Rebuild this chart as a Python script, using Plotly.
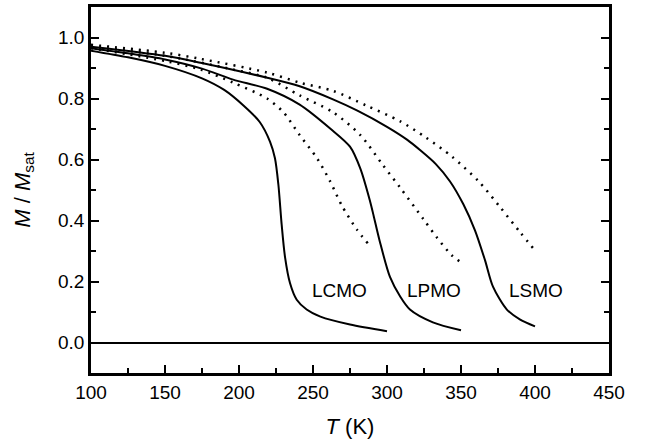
import plotly.graph_objects as go

# Solid curves (measured)
T_lcmo = [100, 125, 150, 175, 190, 203, 214, 221, 224.3, 226.6, 228.8, 231.1, 234.5, 239, 245.7, 255, 275, 300]
M_lcmo = [0.957, 0.935, 0.907, 0.866, 0.828, 0.777, 0.723, 0.658, 0.604, 0.518, 0.388, 0.28, 0.194, 0.14, 0.108, 0.085, 0.059, 0.037]

T_lpmo = [100, 125, 150, 175, 196, 219, 241, 262, 275, 282, 288.5, 291, 295, 302, 309, 315.5, 331, 350]
M_lpmo = [0.965, 0.948, 0.928, 0.898, 0.862, 0.832, 0.78, 0.70, 0.642, 0.57, 0.464, 0.415, 0.334, 0.215, 0.15, 0.108, 0.066, 0.04]

T_lsmo = [100, 150, 174, 219, 241, 263.5, 280, 300, 313.5, 322.3, 333, 342.6, 351.6, 359.5, 366.2, 371.6, 381, 390, 400]
M_lsmo = [0.97, 0.94, 0.917, 0.868, 0.84, 0.797, 0.76, 0.707, 0.665, 0.631, 0.585, 0.528, 0.453, 0.367, 0.27, 0.183, 0.108, 0.075, 0.053]

# Dotted curves (model)
T_lcmo_d = [100, 151, 174, 196, 219, 230, 241, 252.7, 261.5, 269.6, 279.7, 287]
M_lcmo_d = [0.965, 0.922, 0.895, 0.852, 0.80, 0.755, 0.68, 0.604, 0.529, 0.448, 0.37, 0.325]

T_lpmo_d = [100, 150, 196, 219, 241, 263.5, 282, 297, 309, 324.5, 333.6, 343.7, 350]
M_lpmo_d = [0.97, 0.94, 0.895, 0.868, 0.81, 0.755, 0.68, 0.583, 0.507, 0.405, 0.345, 0.286, 0.263]

T_lsmo_d = [100, 150, 174, 219, 241, 263.5, 286, 309, 326, 344, 362, 376.4, 390, 400]
M_lsmo_d = [0.976, 0.95, 0.93, 0.885, 0.852, 0.825, 0.777, 0.725, 0.673, 0.609, 0.528, 0.444, 0.361, 0.302]

labels = ["LCMO", "LPMO", "LSMO"]
label_T = [268, 332, 401]
label_M = [0.172, 0.172, 0.172]

FONT = "Liberation Sans, Arial, sans-serif"

fig = go.Figure()
for T, M in [(T_lcmo_d, M_lcmo_d), (T_lpmo_d, M_lpmo_d), (T_lsmo_d, M_lsmo_d)]:
    fig.add_trace(go.Scatter(x=T, y=M, mode="lines",
                             line=dict(color="black", width=2.5, dash="2px,6px", shape="spline", smoothing=0.8),
                             showlegend=False))
for T, M in [(T_lcmo, M_lcmo), (T_lpmo, M_lpmo), (T_lsmo, M_lsmo)]:
    fig.add_trace(go.Scatter(x=T, y=M, mode="lines",
                             line=dict(color="black", width=2, shape="spline", smoothing=0.8),
                             showlegend=False))

for lab, tx, my in zip(labels, label_T, label_M):
    fig.add_annotation(x=tx, y=my, text=lab, showarrow=False,
                       font=dict(family=FONT, size=19, color="black"))

fig.update_layout(
    width=645, height=443,
    margin=dict(l=91, r=36, t=4, b=70),
    paper_bgcolor="white", plot_bgcolor="white",
    font=dict(family=FONT, size=19, color="black"),
    showlegend=False,
)
fig.update_xaxes(
    range=[100, 450], tick0=100, dtick=50,
    ticks="inside", ticklen=8, tickwidth=2, tickcolor="black",
    minor=dict(ticks="inside", dtick=25, ticklen=5, tickwidth=2, tickcolor="black"),
    showline=True, linewidth=2.5, linecolor="black", mirror=True,
    showgrid=False, zeroline=False,
    title=dict(text="<i>T</i> (K)", font=dict(size=22), standoff=18),
    tickfont=dict(size=19),
)
fig.update_yaxes(
    range=[-0.1, 1.1], tick0=0, dtick=0.2, tickformat=".1f",
    ticks="inside", ticklen=8, tickwidth=2, tickcolor="black",
    minor=dict(ticks="inside", dtick=0.1, ticklen=5, tickwidth=2, tickcolor="black"),
    showline=True, linewidth=2.5, linecolor="black", mirror="ticks",
    showgrid=False,
    zeroline=True, zerolinecolor="black", zerolinewidth=1.5,
    title=dict(text="<i>M</i> / <i>M</i><sub>sat</sub>", font=dict(size=22), standoff=22),
    tickfont=dict(size=19),
)

fig.write_html("out.html")
